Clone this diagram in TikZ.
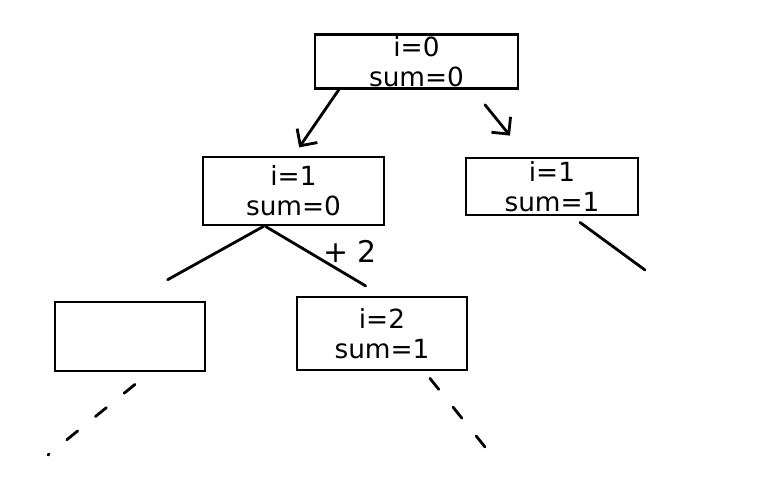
\documentclass[tikz,border=0pt]{standalone}
\usepackage{fontspec}
\setsansfont{DejaVu Sans}
\usetikzlibrary{arrows.meta}
\begin{document}
\begin{tikzpicture}[x=0.02cm, y=-0.02cm,
  state/.style={shape=rectangle, draw=black, line width=1.6pt, inner sep=1pt, align=center, font=\sffamily\fontsize{15}{17}\selectfont},
  link/.style={-, line width=1.6pt, draw=black, line cap=round},
  call/.style={link, -{Straight Barb[length=7pt, width=14pt]}},
  dashlink/.style={link, dash pattern=on 8pt off 13pt}]
\useasboundingbox (0,0) rectangle (777,484);
% recursion states
\node[state, minimum width=4.06cm, minimum height=0.94cm] (root) at (416.5,61.5) {i=0\\sum=0};
\node[state, minimum width=3.62cm, minimum height=1.36cm] (lm) at (293.5,191) {i=1\\sum=0};
\node[state, minimum width=3.44cm, minimum height=1.14cm] (rm) at (552,186.5) {i=1\\sum=1};
\node[state, minimum width=3.0cm, minimum height=1.38cm] (bl) at (130,336.5) {};
\node[state, minimum width=3.4cm, minimum height=1.46cm] (bm) at (382,333.5) {i=2\\sum=1};
\node[font=\sffamily\fontsize{17}{17}\selectfont] (plus) at (350,251) {+ 2};
% free ends
\coordinate (rmend) at (645,270);
\coordinate (blend) at (48,455);
\coordinate (bmend) at (485,447);
% calls
\draw[call, shorten >=0.2cm] (root.-160) -- (lm.north);
\draw[call] ([shift={(68.5,15)}]root.south) -- ([shift={(-42,-21)}]rm.north);
\draw[link, shorten >=0.86cm] ([shift={(-30,0)}]lm.south) -- (bl.north);
\draw[link, shorten >=0.38cm] ([shift={(-28,0)}]lm.south) -- (bm.north);
\draw[link] ([shift={(28,6)}]rm.south) -- (rmend);
\draw[dashlink] ([shift={(5,12)}]bl.south) -- (blend);
\draw[dashlink] ([shift={(48,7)}]bm.south) -- (bmend);
\end{tikzpicture}
\end{document}
